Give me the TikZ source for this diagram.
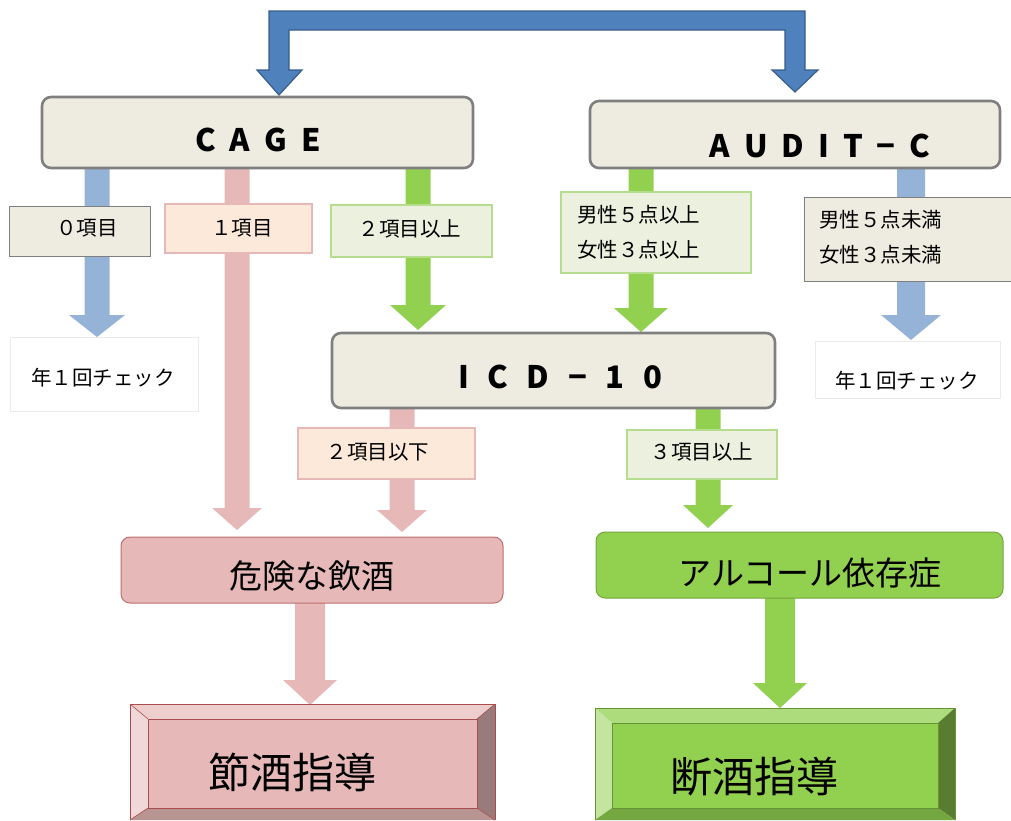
\documentclass[tikz,border=0pt]{standalone}
\usepackage{fontspec}
\setmainfont{Noto Sans CJK JP}
\newfontfamily\cjk{Noto Sans CJK JP}
\definecolor{topblue}{HTML}{4F81BD}
\definecolor{topblueline}{HTML}{385D8A}
\definecolor{ltblue}{HTML}{95B3D7}
\definecolor{pinkA}{HTML}{E6B9B8}
\definecolor{pinkL}{HTML}{FDE9D9}
\definecolor{grnA}{HTML}{92D050}
\definecolor{grnL}{HTML}{EBF1DE}
\definecolor{grnLine}{HTML}{B6DD8E}
\definecolor{beige}{HTML}{EEECE1}
\definecolor{boxline}{HTML}{7F7F7F}
\newcommand\blockarr[7]{% color, x, ytop, ytip, halfshaft, halfhead, headlen
  \fill[#1] (#2-#5,#3) -- (#2+#5,#3) -- (#2+#5,#4-#7) -- (#2+#6,#4-#7) -- (#2,#4)
    -- (#2-#6,#4-#7) -- (#2-#5,#4-#7) -- cycle;}
\tikzset{
  x=1pt,y=-1pt,
  mainbox/.style={draw=boxline,line width=2.6pt,rounded corners=9pt,fill=beige,
    inner sep=0pt},
  titletxt/.style={inner sep=0pt,font=\cjk\bfseries\fontsize{31}{31}\selectfont},
  lbl/.style={inner sep=0pt,font=\cjk\fontsize{20.5}{35}\selectfont,align=left},
  lblbeige/.style={lbl,draw=boxline,line width=1pt,fill=beige},
  lblpink/.style={lbl,draw=pinkA,line width=2pt,fill=pinkL},
  lblgrn/.style={lbl,draw=grnLine,line width=1.5pt,fill=grnL},
  chk/.style={lbl,draw=black!8,line width=0.8pt,fill=white},
  resbox/.style={rounded corners=9pt,inner sep=0pt,line width=1pt},
  midtxt/.style={inner sep=0pt,font=\cjk\fontsize{33}{33}\selectfont},
  bigtxt/.style={inner sep=0pt,font=\cjk\fontsize{42}{42}\selectfont},
}
\begin{document}
\begin{tikzpicture}
\useasboundingbox (0,0) rectangle (1011,820);
% top connector
\filldraw[fill=topblue,draw=topblueline,line width=1.2pt]
  (269,11) -- (805,11) -- (805,70) -- (818,70) -- (795,92) -- (772,70) -- (785,70)
  -- (785,30) -- (289,30) -- (289,70) -- (302,70) -- (279,95) -- (257,70) -- (269,70) -- cycle;
% arrows
\blockarr{ltblue}{97}{168}{337}{12.5}{28}{22}
\blockarr{pinkA}{237}{168}{530}{12.5}{25}{22}
\blockarr{grnA}{418}{168}{330}{12.5}{28}{25}
\blockarr{grnA}{641}{168}{332}{12.5}{27}{24}
\blockarr{ltblue}{911}{168}{340}{14}{30}{25}
\blockarr{pinkA}{402}{408}{532}{12.5}{25}{22}
\blockarr{grnA}{708}{408}{528}{12.5}{25}{23}
\blockarr{pinkA}{310}{603}{705}{15}{27}{25}
\blockarr{grnA}{780}{598}{708}{15}{27}{25}
% main boxes
\node[mainbox,minimum width=431pt,minimum height=71pt] (cage) at (257.5,132.5) {};
\node[titletxt] (caget) at (258,140) {C\hspace{0.45em}A\hspace{0.45em}G\hspace{0.45em}E};
\node[mainbox,minimum width=410pt,minimum height=67pt] (audit) at (795,134.5) {};
\node[titletxt] (auditt) at (820,146) {A\hspace{0.45em}U\hspace{0.45em}D\hspace{0.45em}I\hspace{0.45em}T\hspace{0.45em}−\hspace{0.45em}C};
\node[mainbox,minimum width=443pt,minimum height=75pt] (icd) at (553.5,370.5) {};
\node[titletxt] (icdt) at (560,377) {I\hspace{0.6em}C\hspace{0.6em}D\hspace{0.6em}−\hspace{0.6em}1\hspace{0.6em}0};
% label boxes
\node[lblbeige,minimum width=141pt,minimum height=50pt] (l0) at (79.5,231) {};
\node[lbl] at (87,228) {０項目};
\node[lblpink,minimum width=147pt,minimum height=49pt] (l1) at (238.5,228.5) {};
\node[lbl] at (242,228) {１項目};
\node[lblgrn,minimum width=161pt,minimum height=52pt] (l2) at (411.5,231) {};
\node[lbl] at (410,229) {２項目以上};
\node[lblgrn,minimum width=190pt,minimum height=81pt] (la) at (656,232.5) {};
\node[lbl,anchor=west] at (577,232) {男性５点以上\\女性３点以上};
\node[lblbeige,minimum width=207pt,minimum height=84pt] (lb) at (907.5,239) {};
\node[lbl,anchor=west] at (819,237) {男性５点未満\\女性３点未満};
\node[chk,minimum width=188pt,minimum height=74pt] (c1) at (104,374) {};
\node[lbl] at (103,378) {年１回チェック};
\node[chk,minimum width=185pt,minimum height=57pt] (c2) at (907.5,369.5) {};
\node[lbl] at (907,381) {年１回チェック};
\node[lblpink,minimum width=177pt,minimum height=51pt] (l3) at (386.5,453.5) {};
\node[lbl] at (378,452) {２項目以下};
\node[lblgrn,minimum width=150pt,minimum height=49pt] (l4) at (702,454.5) {};
\node[lbl] at (702,452) {３項目以上};
% result boxes
\node[resbox,draw=pinkA!75!red!80!black,fill=pinkA,minimum width=382pt,minimum height=66pt] (kiken) at (312,570) {};
\node[midtxt] at (312,576) {危険な飲酒};
\node[resbox,draw=grnA!80!black,fill=grnA,minimum width=407pt,minimum height=66pt] (alc) at (799.5,565) {};
\node[midtxt] at (810,573) {アルコール依存症};
% bevel boxes: pink
\fill[pinkA] (148,719) rectangle (477,808);
\fill[pinkA!70!white] (130,704) -- (495,704) -- (477,719) -- (148,719) -- cycle;
\fill[pinkA!55!white] (130,704) -- (148,719) -- (148,808) -- (130,820) -- cycle;
\fill[pinkA!55!black!75!pinkA] (495,704) -- (495,820) -- (477,808) -- (477,719) -- cycle;
\fill[pinkA!80!black] (130,820) -- (148,808) -- (477,808) -- (495,820) -- cycle;
\draw[pinkA!60!red!70!black,line width=0.8pt] (130,820) -- (130,704) -- (495,704) -- (495,820);
\draw[pinkA!60!red!70!black,line width=0.8pt] (148,719) rectangle (477,808);
\draw[pinkA!60!red!70!black,line width=0.6pt] (130,704) -- (148,719) (495,704) -- (477,719) (130,820) -- (148,808) (495,820) -- (477,808);
\node[bigtxt] (setsu) at (292,772) {節酒指導};
% bevel boxes: green
\fill[grnA] (612,723) rectangle (938,808);
\fill[grnA!75!white] (595,708) -- (955,708) -- (938,723) -- (612,723) -- cycle;
\fill[grnA!55!white] (595,708) -- (612,723) -- (612,808) -- (595,820) -- cycle;
\fill[grnA!60!black] (955,708) -- (955,820) -- (938,808) -- (938,723) -- cycle;
\fill[grnA!80!black] (595,820) -- (612,808) -- (938,808) -- (955,820) -- cycle;
\draw[grnA!70!black,line width=0.8pt] (595,820) -- (595,708) -- (955,708) -- (955,820);
\draw[grnA!70!black,line width=0.6pt] (612,723) rectangle (938,808);
\node[bigtxt] (danshu) at (754,777) {断酒指導};
\end{tikzpicture}
\end{document}
